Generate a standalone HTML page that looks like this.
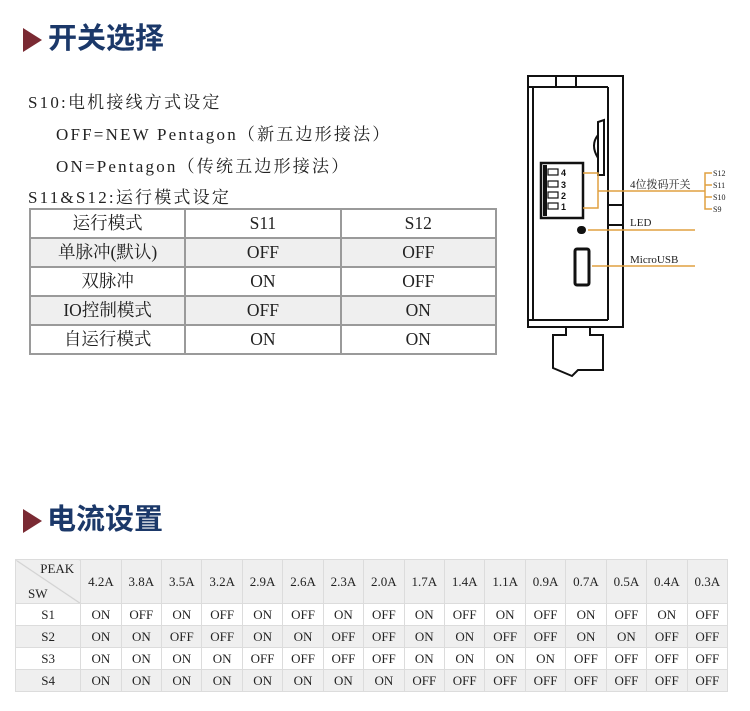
<!DOCTYPE html>
<html><head><meta charset="utf-8"><style>
body{margin:0;width:750px;height:711px;background:#fff;position:relative;overflow:hidden;font-family:"Liberation Serif","Noto Serif CJK SC",serif;color:#222}
.a{position:absolute;white-space:nowrap}
.h{font-family:"Liberation Sans","Noto Sans CJK SC",sans-serif;font-weight:bold;font-size:29px;color:#1b3869;line-height:30px}
.tri{position:absolute;width:0;height:0;border-left:19px solid #7a2a33;border-top:12px solid transparent;border-bottom:12px solid transparent}
.t{font-size:17px;letter-spacing:2.2px}
table{border-collapse:collapse;position:absolute}
#t1{left:29px;top:208px;width:468px}
#t1 td{border:2px solid #9a9a9a;height:27px;text-align:center;font-size:17.5px;padding:0;width:156px;line-height:27px}
#t1 tr.g td{background:#efefef}
#t2{left:15px;top:559px;width:713px}
#t2 td{border:1px solid #dcdcdc;text-align:center;font-size:13px;padding:0;height:21px;width:40.2px}
#t2 tr:first-child td{height:43px;background:#efefef}
#t2 tr.g td{background:#efefef}
</style></head><body>
<div class="tri" style="left:23px;top:28px"></div>
<div class="a h" style="left:48px;top:24px">开关选择</div>
<div class="a t" style="left:28px;top:88px">S10:电机接线方式设定</div>
<div class="a t" style="left:56px;top:120px">OFF=NEW Pentagon（新五边形接法）</div>
<div class="a t" style="left:56px;top:152px">ON=Pentagon（传统五边形接法）</div>
<div class="a t" style="left:28px;top:183px">S11&amp;S12:运行模式设定</div>
<table id="t1">
<tr><td>运行模式</td><td>S11</td><td>S12</td></tr>
<tr class="g"><td>单脉冲(默认)</td><td>OFF</td><td>OFF</td></tr>
<tr><td>双脉冲</td><td>ON</td><td>OFF</td></tr>
<tr class="g"><td>IO控制模式</td><td>OFF</td><td>ON</td></tr>
<tr><td>自运行模式</td><td>ON</td><td>ON</td></tr>
</table>
<svg class="a" style="left:0;top:0" width="750" height="400">
<g fill="none" stroke="#111" stroke-width="2">
<rect x="528" y="76" width="95" height="251"/>
<line x1="528" y1="87" x2="608" y2="87"/>
<line x1="556" y1="76" x2="556" y2="87"/><line x1="576" y1="76" x2="576" y2="87"/>
<line x1="533" y1="87" x2="533" y2="320"/>
<line x1="608" y1="87" x2="608" y2="320"/>
<line x1="528" y1="320" x2="608" y2="320"/>
<line x1="608" y1="205" x2="623" y2="205"/><line x1="608" y1="225" x2="623" y2="225"/>
<rect x="541" y="163" width="42" height="55" stroke-width="2.5"/>
<path d="M604 120 L604 175 L598 175 L598 122 Z"/>
<path d="M598 135 Q590 145 598 158"/>
<path d="M553 335 L566 335 L566 327 L590 327 L590 335 L603 335 L603 370 L578 370 L572 376 L553 368 Z"/>
<rect x="575" y="249" width="14" height="36" rx="2" stroke-width="3"/>
</g>
<g fill="#111">
<rect x="577" y="226" width="9" height="8" rx="4"/>
<rect x="543" y="165" width="4" height="51"/>
</g>
<g fill="none" stroke="#111" stroke-width="1.2">
<rect x="548" y="169" width="10" height="6"/><rect x="548" y="181" width="10" height="6"/><rect x="548" y="192" width="10" height="6"/><rect x="548" y="203" width="10" height="6"/>
</g>
<g font-family="Liberation Sans" font-weight="bold" font-size="9" fill="#111">
<text x="561" y="176">4</text><text x="561" y="188">3</text><text x="561" y="199">2</text><text x="561" y="210">1</text>
</g>
<g fill="none" stroke="#e0a040" stroke-width="1.5">
<path d="M583 173 L598 173 L598 208 L583 208"/>
<line x1="598" y1="191" x2="705" y2="191"/>
<path d="M712 173 L705 173 L705 209 L712 209 M705 185 L712 185 M705 197 L712 197"/>
<line x1="588" y1="230" x2="695" y2="230"/>
<line x1="592" y1="266" x2="695" y2="266"/>
</g>
<g font-size="11" fill="#222" font-family="Liberation Serif,Noto Serif CJK SC,serif">
<text x="630" y="188">4位拨码开关</text>
<text x="630" y="226">LED</text>
<text x="630" y="263">MicroUSB</text>
</g>
<g font-size="8" fill="#222" font-family="Liberation Serif,serif">
<text x="713" y="176">S12</text><text x="713" y="188">S11</text><text x="713" y="200">S10</text><text x="713" y="212">S9</text>
</g>
</svg>
<div class="tri" style="left:23px;top:509px"></div>
<div class="a h" style="left:47px;top:505px">电流设置</div>
<table id="t2">
<tr><td style="width:67px;position:relative;background:linear-gradient(to top right,#efefef calc(50% - 1px),#ccc,#efefef calc(50% + 1px))"><span style="position:absolute;right:6px;top:1px">PEAK</span><span style="position:absolute;left:12px;bottom:1px">SW</span></td><td>4.2A</td><td>3.8A</td><td>3.5A</td><td>3.2A</td><td>2.9A</td><td>2.6A</td><td>2.3A</td><td>2.0A</td><td>1.7A</td><td>1.4A</td><td>1.1A</td><td>0.9A</td><td>0.7A</td><td>0.5A</td><td>0.4A</td><td>0.3A</td></tr>
<tr><td>S1</td><td>ON</td><td>OFF</td><td>ON</td><td>OFF</td><td>ON</td><td>OFF</td><td>ON</td><td>OFF</td><td>ON</td><td>OFF</td><td>ON</td><td>OFF</td><td>ON</td><td>OFF</td><td>ON</td><td>OFF</td></tr>
<tr class="g"><td>S2</td><td>ON</td><td>ON</td><td>OFF</td><td>OFF</td><td>ON</td><td>ON</td><td>OFF</td><td>OFF</td><td>ON</td><td>ON</td><td>OFF</td><td>OFF</td><td>ON</td><td>ON</td><td>OFF</td><td>OFF</td></tr>
<tr><td>S3</td><td>ON</td><td>ON</td><td>ON</td><td>ON</td><td>OFF</td><td>OFF</td><td>OFF</td><td>OFF</td><td>ON</td><td>ON</td><td>ON</td><td>ON</td><td>OFF</td><td>OFF</td><td>OFF</td><td>OFF</td></tr>
<tr class="g"><td>S4</td><td>ON</td><td>ON</td><td>ON</td><td>ON</td><td>ON</td><td>ON</td><td>ON</td><td>ON</td><td>OFF</td><td>OFF</td><td>OFF</td><td>OFF</td><td>OFF</td><td>OFF</td><td>OFF</td><td>OFF</td></tr>
</table>
</body></html>
